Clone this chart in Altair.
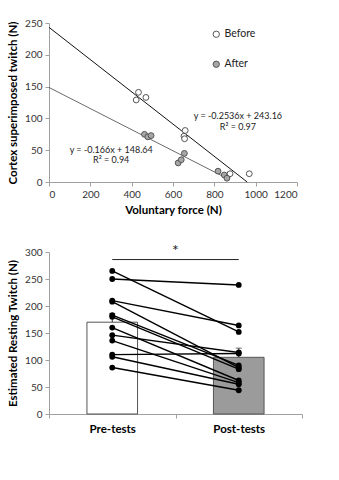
import altair as alt
import pandas as pd

# ---------------- Top panel data ----------------
before_force = [433, 422, 469, 659, 653, 656, 862, 876, 969]
before_twitch = [141, 129, 133, 81, 72, 68, 9, 13, 13]
after_force = [462, 478, 494, 625, 640, 655, 818, 848, 861]
after_twitch = [75, 71, 73, 30, 35, 45, 17, 11, 6]

fit_groups = ["Before", "Before", "After", "After"]
fit_x = [0, 959, 0, 865]
fit_y = [243.16, 0.0, 148.64, 5.05]

eq_text = ["y = -0.2536x + 243.16", "R\u00b2 = 0.97", "y = -0.166x + 148.64", "R\u00b2 = 0.94"]
eq_x = [914, 914, 301, 301]
eq_y = [104, 87, 51, 34]

# ---------------- Bottom panel data ----------------
phases = ["Pre-tests", "Post-tests"]
bar_colors = ["white", "#9b9b9b"]
pre_vals = [265, 250, 210, 208, 183, 180, 160, 146, 136, 110, 106, 86]
post_vals = [152, 239, 164, 86, 90, 83, 62, 114, 58, 112, 55, 44]
bar_means = [170, 105]
bar_sem = [16, 17]
sig_y = 286

FONT = "Lato"

scatter_df = pd.DataFrame({
    "force": before_force + after_force,
    "twitch": before_twitch + after_twitch,
    "group": ["Before"] * len(before_force) + ["After"] * len(after_force),
})
fit_df = pd.DataFrame({"group": fit_groups, "x": fit_x, "y": fit_y})
eq_df = pd.DataFrame({"text": eq_text, "x": eq_x, "y": eq_y})

xs = alt.Scale(domain=[0, 1200], nice=False)
ys = alt.Scale(domain=[0, 250], nice=False)
x_axis_top = alt.Axis(values=[0, 200, 400, 600, 800, 1000, 1200], format="d",
                      title="Voluntary force (N)", titlePadding=5, labelOverlap=False)
y_axis_top = alt.Axis(values=[0, 50, 100, 150, 200, 250], title="Cortex superimposed twitch (N)",
                      titlePadding=6, labelOverlap=False)

fit_before = alt.Chart(fit_df).transform_filter(alt.datum.group == "Before").mark_line(
    clip=False, color="#111111", strokeWidth=1.0).encode(
    x=alt.X("x:Q", scale=xs, axis=x_axis_top),
    y=alt.Y("y:Q", scale=ys, axis=y_axis_top),
)
fit_after = alt.Chart(fit_df).transform_filter(alt.datum.group == "After").mark_line(
    clip=False, color="#444444", strokeWidth=0.8).encode(
    x=alt.X("x:Q", scale=xs, axis=x_axis_top),
    y=alt.Y("y:Q", scale=ys, axis=y_axis_top),
)

pts = alt.Chart(scatter_df).mark_circle(size=34, opacity=1, stroke="#555555", strokeWidth=1).encode(
    x=alt.X("force:Q", scale=xs, axis=x_axis_top),
    y=alt.Y("twitch:Q", scale=ys, axis=y_axis_top),
    fill=alt.Fill("group:N",
                  scale=alt.Scale(domain=["Before", "After"], range=["white", "#a6a6a6"]),
                  legend=alt.Legend(title=None, orient="none", legendX=162, legendY=6,
                                    rowPadding=19, symbolSize=40, symbolStrokeColor="#555555",
                                    symbolStrokeWidth=1, labelFontSize=10.5, labelOffset=3,
                                    labelFont=FONT, labelColor="#222222")),
)

eqs = alt.Chart(eq_df).mark_text(font=FONT, fontSize=9, color="#222222").encode(
    x=alt.X("x:Q", scale=xs, axis=x_axis_top),
    y=alt.Y("y:Q", scale=ys, axis=y_axis_top),
    text="text:N",
)

top = alt.layer(fit_before, fit_after, pts, eqs).properties(width=248, height=159)

# ---------------- Bottom panel ----------------
pairs_df = pd.DataFrame({
    "subject": list(range(len(pre_vals))) * 2,
    "phase": ["Pre-tests"] * len(pre_vals) + ["Post-tests"] * len(post_vals),
    "value": pre_vals + post_vals,
})
bars_df = pd.DataFrame({
    "phase": phases,
    "mean": bar_means,
    "top": [m + s for m, s in zip(bar_means, bar_sem)],
    "color": bar_colors,
})

bx = alt.Scale(domain=phases, paddingInner=0, paddingOuter=0)
by = alt.Scale(domain=[0, 300], nice=False)
x_axis_bot = alt.Axis(title=None, labelAngle=0, tickBand="extent", labelFontWeight="bold",
                      labelFontSize=11.5, labelColor="#000000", labelPadding=5)
y_axis_bot = alt.Axis(values=[0, 50, 100, 150, 200, 250, 300], title="Estimated Resting Twitch (N)",
                      titlePadding=6, labelOverlap=False)

def X(field, **kw):
    return alt.X(field, scale=bx, sort=phases, axis=x_axis_bot, **kw)

def Y(field):
    return alt.Y(field, scale=by, axis=y_axis_bot)

bars = alt.Chart(bars_df).mark_bar(width=alt.RelativeBandSize(0.4), stroke="#555555", strokeWidth=1).encode(
    x=X("phase:N"),
    y=Y("mean:Q"),
    fill=alt.Fill("color:N", scale=None),
)

err = alt.Chart(bars_df).mark_rule(color="#333333", strokeWidth=1).encode(
    x=X("phase:N"),
    y=Y("mean:Q"),
    y2="top:Q",
)
caps = alt.Chart(bars_df).mark_tick(color="#333333", thickness=1, size=6, orient="horizontal").encode(
    x=X("phase:N"),
    y=Y("top:Q"),
)

pair_lines = alt.Chart(pairs_df).mark_line(color="#000000", strokeWidth=1.4).encode(
    x=X("phase:N"),
    y=Y("value:Q"),
    detail="subject:N",
)
pair_pts = alt.Chart(pairs_df).mark_circle(color="#000000", size=34, opacity=1).encode(
    x=X("phase:N"),
    y=Y("value:Q"),
)

sig_df = pd.DataFrame({"x1": ["Pre-tests"], "x2": ["Post-tests"], "y": [sig_y], "star": ["*"]})
bracket = alt.Chart(sig_df).mark_rule(color="#222222", strokeWidth=1).encode(
    x=X("x1:N"),
    x2="x2:N",
    y=Y("y:Q"),
)
star = alt.Chart(sig_df).mark_text(font=FONT, fontSize=16, color="#222222", dy=-9).encode(
    x=X("x2:N", bandPosition=0),
    y=Y("y:Q"),
    text="star:N",
)

bottom = alt.layer(bars, err, caps, pair_lines, pair_pts, bracket, star).properties(width=253, height=162)

chart = alt.vconcat(top, bottom, spacing=26).resolve_scale(
    x="independent", y="independent"
).properties(
    padding={"left": 7, "top": 18, "right": 5, "bottom": 5}
).configure_view(stroke=None).configure_axis(
    grid=False,
    domainColor="#a0a0a0",
    tickColor="#a0a0a0",
    tickSize=4,
    labelFont=FONT,
    labelFontSize=10,
    labelColor="#333333",
    labelPadding=3,
    titleFont=FONT,
    titleFontSize=11.5,
    titleFontWeight="bold",
    titleColor="#000000",
).configure_legend(labelFont=FONT)

chart.save("out.html", embed_options={"renderer": "svg", "actions": False})
